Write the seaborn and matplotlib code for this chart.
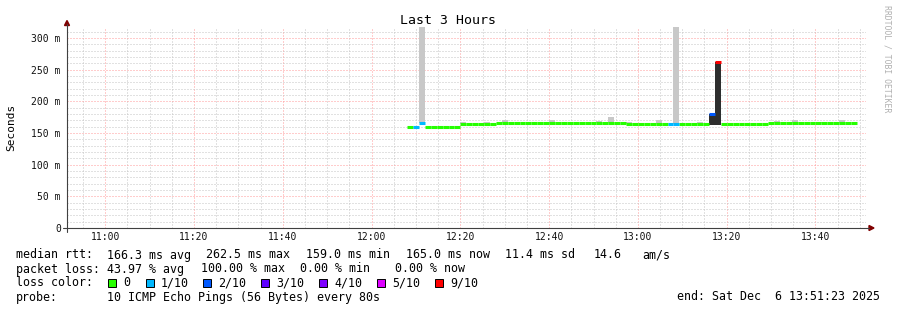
import numpy as np
import pandas as pd
import matplotlib
matplotlib.use("Agg")
import matplotlib.pyplot as plt
import seaborn as sns
from matplotlib.patches import Rectangle, Polygon
from matplotlib.ticker import MultipleLocator, FixedLocator

# ---------------- data ----------------
end_time_min = 13 * 60 + 51 + 23 / 60      # end: 13:51:23
span_min = 180                              # last 3 hours
first_step_min = 12 * 60 + 8                # first sample 12:08
step_min = 80 / 60                          # one probe every 80 s

median_ms = [
    159.5, 159.5, 166.0, 159.0, 159.0, 159.0, 159.0, 159.0, 160.0,
    164.5, 164.5, 164.5, 164.5, 164.5, 164.5,
    166.5, 166.5, 166.5, 166.5, 166.5, 166.5, 166.5, 166.5, 166.5, 166.5, 166.5,
    166.5, 166.5, 166.5, 166.5, 166.5, 166.5, 166.5, 166.5, 166.5, 166.5, 166.5,
    164.5, 164.5, 164.5, 164.5, 164.5, 164.5, 164.5,
    164.5, 164.5,
    164.5, 164.5, 164.5, 164.5, 164.5,
    180.0, 262.5,
    164.5, 164.5, 164.5, 164.5, 164.5, 164.5, 164.5, 164.5,
    166.0, 166.0, 166.0, 166.0, 166.0, 166.0, 166.0, 166.0,
    165.0, 165.0, 165.0, 165.0, 165.0, 165.0, 165.0,
]
loss_tenths = [
    0, 1, 1, 0, 0, 0, 0, 0, 0,
    0, 0, 0, 0, 0, 0,
    0, 0, 0, 0, 0, 0, 0, 0, 0, 0, 0,
    0, 0, 0, 0, 0, 0, 0, 0, 0, 0, 0,
    0, 0, 0, 0, 0, 0, 0,
    1, 1,
    0, 0, 0, 0, 0,
    2, 9,
    0, 0, 0, 0, 0, 0, 0, 0,
    0, 0, 0, 0, 0, 0, 0, 0,
    0, 0, 0, 0, 0, 0, 0,
]
# visible smoke (ping spread) per step
smoke_step = [2, 9, 13, 16, 24, 32, 34, 37, 42, 45, 49, 51, 52, 62, 65, 70, 73]
smoke_lo_ms = [166.0, 164.5, 164.5, 166.5, 166.5, 166.5, 166.5, 164.5, 164.5,
               164.5, 164.5, 163.0, 163.0, 166.0, 166.0, 165.0, 165.0]
smoke_hi_ms = [400.0, 168.0, 168.0, 170.0, 170.0, 169.5, 176.0, 168.0, 170.5,
               400.0, 168.0, 180.0, 262.5, 169.5, 170.5, 168.0, 170.5]

loss_levels = [0, 1, 2, 3, 4, 5, 9]
loss_labels = ["0", "1/10", "2/10", "3/10", "4/10", "5/10", "9/10"]
loss_colors = ["#26ff00", "#00b8ff", "#0059ff", "#5e00ff", "#7e00ff", "#dd00ff", "#ff0000"]

x_tick_labels = ["11:00", "11:20", "11:40", "12:00", "12:20", "12:40", "13:00", "13:20", "13:40"]
y_tick_values = [0, 50, 100, 150, 200, 250, 300]

stats_rtt = [("median rtt:", 16), ("166.3 ms avg", 107), ("262.5 ms max", 206),
             ("159.0 ms min", 306), ("165.0 ms now", 406), ("11.4 ms sd", 505),
             ("14.6", 594), ("am/s", 642)]
stats_loss = [("packet loss:", 16), ("43.97 % avg", 107), ("100.00 % max", 201),
              ("0.00 % min", 300), ("0.00 % now", 395)]
probe_text = "10 ICMP Echo Pings (56 Bytes) every 80s"
end_text = "end: Sat Dec  6 13:51:23 2025"

# ---------------- style ----------------
sns.set_theme(style="white")
plt.rcParams["font.family"] = ["DejaVu Sans Mono", "DejaVu Sans"]

W, H = 897, 310
fig = plt.figure(figsize=(W / 100, H / 100), dpi=100)
fig.patch.set_facecolor("white")
ax = fig.add_axes([67 / W, (H - 228) / H, 799 / W, (228 - 27.2) / H])
ax.set_facecolor("white")

def fx(x):
    return x / W

def fy(y):
    return (H - y) / H

# ---------------- marks ----------------
t_start = [first_step_min + i * step_min for i in range(len(median_ms))]
color_of = dict(zip(loss_levels, loss_colors))

# smoke
s_t = [t_start[i] for i in smoke_step]
s_col = ["#2e2e2e" if loss_tenths[i] >= 2 else "#c8c8c8" for i in smoke_step]
ax.bar(s_t, np.array(smoke_hi_ms) - np.array(smoke_lo_ms), bottom=smoke_lo_ms,
       width=step_min, align="edge", color=s_col, linewidth=0, zorder=2)

# median line coloured by loss
rows = []
for i, (t, m, l) in enumerate(zip(t_start, median_ms, loss_tenths)):
    rows.append({"t": t, "median": m, "loss": l, "seg": i})
    rows.append({"t": t + step_min, "median": m, "loss": l, "seg": i})
df = pd.DataFrame(rows)
sns.lineplot(data=df, x="t", y="median", hue="loss", units="seg", estimator=None,
             palette={k: color_of[k] for k in sorted(set(loss_tenths))},
             linewidth=2.2, legend=False, ax=ax, solid_capstyle="butt", zorder=3)

# ---------------- axes ----------------
ax.set_xlim(end_time_min - span_min, end_time_min)
ax.set_ylim(0, 317)
major_x = [11 * 60 + 20 * k for k in range(len(x_tick_labels))]
ax.xaxis.set_major_locator(FixedLocator(major_x))
ax.set_xticklabels(x_tick_labels)
ax.xaxis.set_minor_locator(MultipleLocator(5))
ax.yaxis.set_major_locator(FixedLocator(y_tick_values))
ax.set_yticklabels(["0" if v == 0 else f"{v} m" for v in y_tick_values])
ax.yaxis.set_minor_locator(MultipleLocator(10))
ax.set_xlabel("")
ax.set_ylabel("")

ax.set_axisbelow(True)
ax.grid(which="minor", color="#c4c4c4", linestyle=(0, (1, 2)), linewidth=0.72)
ax.grid(which="major", color="#ff9a9a", linestyle=(0, (1, 2)), linewidth=0.72)

for s in ax.spines.values():
    s.set_visible(False)
ax.tick_params(axis="both", which="major", labelsize=7, length=2, width=0.7,
               color="#444444", direction="out", labelcolor="#111111")
ax.tick_params(axis="y", which="major", pad=2.5)
ax.tick_params(axis="x", which="major", pad=1.0)
ax.tick_params(axis="both", which="minor", length=1.2, width=0.6,
               color="#444444", direction="out")

# axis lines with arrows
axis_col = "#404040"
fig.add_artist(plt.Line2D([fx(67), fx(67)], [fy(232), fy(24)], color=axis_col,
                          linewidth=0.8, transform=fig.transFigure))
fig.add_artist(plt.Line2D([fx(63), fx(869)], [fy(228), fy(228)], color=axis_col,
                          linewidth=0.8, transform=fig.transFigure))
fig.add_artist(Polygon([[fx(64.5), fy(25.5)], [fx(69.5), fy(25.5)], [fx(67), fy(20.5)]],
                       closed=True, color="#800000", transform=fig.transFigure))
fig.add_artist(Polygon([[fx(869), fy(225.5)], [fx(869), fy(230.5)], [fx(874), fy(228)]],
                       closed=True, color="#800000", transform=fig.transFigure))

# ---------------- texts ----------------
fig.text(fx(448), fy(20), "Last 3 Hours", ha="center", va="center", fontsize=9.5, color="#000000")
fig.text(fx(11), fy(127), "Seconds", ha="center", va="center", rotation=90, fontsize=8, color="#000000")
fig.text(fx(887), fy(59), "RRDTOOL / TOBI OETIKER", ha="center", va="center", rotation=270,
         fontsize=5.9, color="#b0b0b0")

LF = 8.37
BL = [258.5, 272.5, 286.5, 300.5]   # baselines of the four legend rows (px)
for txt, x in stats_rtt:
    fig.text(fx(x), fy(BL[0]), txt, ha="left", va="baseline", fontsize=LF, color="#000000")
for txt, x in stats_loss:
    fig.text(fx(x), fy(BL[1]), txt, ha="left", va="baseline", fontsize=LF, color="#000000")

fig.text(fx(16), fy(BL[2]), "loss color:", ha="left", va="baseline", fontsize=LF, color="#000000")
sq_x = [108, 146, 203, 261, 319, 377, 435]
for x, lab, col in zip(sq_x, loss_labels, loss_colors):
    fig.add_artist(Rectangle((fx(x), fy(286.5)), 8 / W, 8 / H, facecolor=col,
                             edgecolor="#000000", linewidth=0.7, transform=fig.transFigure))
    fig.text(fx(x + 15), fy(BL[2]), lab, ha="left", va="baseline", fontsize=LF, color="#000000")

fig.text(fx(16), fy(BL[3]), "probe:", ha="left", va="baseline", fontsize=LF, color="#000000")
fig.text(fx(107), fy(BL[3]), probe_text, ha="left", va="baseline", fontsize=LF, color="#000000")
fig.text(fx(880), fy(BL[3]), end_text, ha="right", va="baseline", fontsize=LF, color="#000000")

fig.savefig("out.png", dpi=100, facecolor="white")
